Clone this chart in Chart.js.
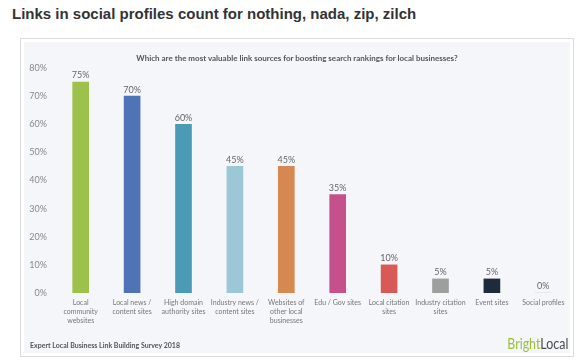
<!DOCTYPE html>
<html>
<head>
<meta charset="utf-8">
<script src="https://cdn.jsdelivr.net/npm/chart.js@4.4.1/dist/chart.umd.min.js"></script>
<style>
  html, body { margin: 0; padding: 0; background: #fff; }
  body { width: 582px; height: 362px; position: relative; overflow: hidden; }
  #heading { position: absolute; left: 12px; top: 5px; font: bold 15px "Liberation Sans", Arial, sans-serif; color: #333; white-space: nowrap; }
  #card { position: absolute; left: 20px; top: 38px; width: 552px; height: 317px; border: 1px solid #dcdcdc; background: #fff; }
  #panel { position: absolute; left: 3px; top: 3px; width: 546px; height: 311px; background: #f4f6f9; }
  #question { position: absolute; left: 0; right: 0; top: 11px; text-align: center; font: bold 8px Lato, sans-serif; color: #555; }
  #source { position: absolute; left: 6px; top: 299px; font: bold 7px Lato, sans-serif; color: #555; }
  #logo { position: absolute; right: 2px; top: 292px; font: 15.5px Lato, sans-serif; transform: scaleX(0.8); transform-origin: right top; }
  #logo .b { color: #9bbf3c; }
  #logo .l { color: #4a4a4a; }
  #wrap { position: absolute; left: 0; top: 0; width: 546px; height: 311px; }
</style>
</head>
<body>
<div id="heading">Links in social profiles count for nothing, nada, zip, zilch</div>
<div id="card">
  <div id="panel">
    <div id="wrap"><canvas id="chart"></canvas></div>
    <div id="question">Which are the most valuable link sources for boosting search rankings for local businesses?</div>
    <div id="source">Expert Local Business Link Building Survey 2018</div>
    <div id="logo"><span class="b">Bright</span><span class="l">Local</span></div>
  </div>
</div>
<script>
//------------------ Data ------------------//
const categories = [
  ['Local', 'community', 'websites'],
  ['Local news /', 'content sites'],
  ['High domain', 'authority sites'],
  ['Industry news /', 'content sites'],
  ['Websites of', 'other local', 'businesses'],
  'Edu / Gov sites',
  ['Local citation', 'sites'],
  ['Industry citation', 'sites'],
  'Event sites',
  'Social profiles'
];
const values = [75, 70, 60, 45, 45, 35, 10, 5, 5, 0];
const barColors = ['#9dc24b', '#4e73b7', '#4b9bb6', '#9cc7d7', '#d5884f', '#c6508b', '#d85a57', '#9e9e9e', '#1d2b3b', '#cccccc'];
const yMax = 80;
const yStep = 10;

// value labels above bars
const valueLabels = {
  id: 'valueLabels',
  afterDatasetsDraw(chart) {
    const ctx = chart.ctx;
    const meta = chart.getDatasetMeta(0);
    ctx.save();
    ctx.font = '9px Lato, sans-serif';
    ctx.fillStyle = '#666';
    ctx.textAlign = 'center';
    ctx.textBaseline = 'bottom';
    meta.data.forEach((bar, i) => {
      ctx.fillText(values[i] + '%', bar.x, bar.y - 2);
    });
    ctx.restore();
  }
};

const ctx = document.getElementById('chart').getContext('2d');
new Chart(ctx, {
  type: 'bar',
  data: {
    labels: categories,
    datasets: [{ data: values, backgroundColor: barColors, barThickness: 16 }]
  },
  options: {
    responsive: true,
    maintainAspectRatio: false,
    animation: false,
    layout: { padding: { top: 26, right: 1, left: 0, bottom: 0 } },
    plugins: { legend: { display: false }, tooltip: { enabled: false } },
    scales: {
      x: {
        grid: { display: false, drawTicks: false },
        border: { display: false },
        ticks: { color: '#777', font: { family: 'Lato', size: 7, lineHeight: 1.3 }, maxRotation: 0, autoSkip: false, padding: 5 },
        afterFit(scale) { scale.height = 60; }
      },
      y: {
        min: 0, max: yMax,
        grid: { display: false, drawTicks: false },
        border: { display: false },
        ticks: { stepSize: yStep, color: '#888', font: { family: 'Lato', size: 9 }, padding: 8, callback: v => v + '%' },
        afterFit(scale) { scale.width = 31; }
      }
    }
  },
  plugins: [valueLabels]
});
</script>
</body>
</html>
